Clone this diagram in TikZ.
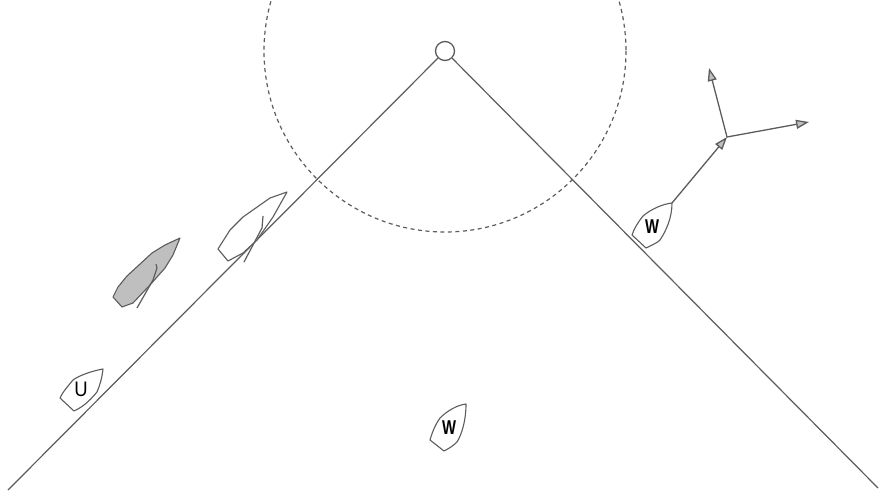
\documentclass[tikz,border=0pt]{standalone}
\usepackage{fontspec}
\setmainfont{Liberation Sans}
\usetikzlibrary{arrows.meta}
\definecolor{linegray}{gray}{0.36}
\definecolor{hullgray}{gray}{0.75}
\tikzset{
  course/.style={draw=linegray,line width=1.2pt},
  hull/.style={draw=linegray,line width=1.1pt,fill=white,line join=round},
  sailline/.style={draw=linegray,line width=1.2pt,line join=round},
  vector/.style={draw=linegray,line width=1.3pt,-{Triangle[length=13pt,width=9pt,fill=hullgray]}},
  boatlabel/.style={inner sep=0pt,font=\fontsize{21}{21}\selectfont,xscale=0.88},
  wlabel/.style={inner sep=0pt,font=\fontsize{20}{20}\selectfont\bfseries,xscale=0.74},
  markcircle/.style={circle,draw=linegray,line width=1.3pt,fill=white,minimum size=19pt,inner sep=0pt}
}
\begin{document}
\begin{tikzpicture}[x=1pt,y=-1pt]
\useasboundingbox (0,0) rectangle (883,495);
\begin{scope}
\clip (0,0) rectangle (883,495);
\coordinate (c) at (445,51);
\draw[draw=linegray,line width=1.2pt,dash pattern=on 4pt off 3.5pt] (c) circle[radius=181];
\end{scope}
\node[markcircle] (mark) at (445,51) {};
\coordinate (leftend) at (8,490);
\coordinate (rightend) at (878,488);
\draw[course] (mark) -- (leftend);
\draw[course] (mark) -- (rightend);
% grey boat
\draw[hull,fill=hullgray] (180,238) -- (165,245) -- (152,253) -- (127,276) -- (118,287) -- (113,297) -- (122,307) -- (133,303) -- (150,285) -- (165,268) -- (173,255) -- cycle;
\draw[sailline] (156,264) -- (157,268) -- (153,280) -- (137,308);
% white boat on layline
\draw[hull] (287,192) -- (270,198) -- (243,217) -- (230,230) -- (218,249) -- (228,261) -- (243,253) -- (257,240) -- (273,217) -- cycle;
\draw[sailline] (263,216) -- (262,228) -- (253,245) -- (244,262);
% U boat
\draw[hull] (103,369) .. controls (92,371) and (80,375) .. (73,380) .. controls (68,386) and (62,393) .. (60,398) -- (74,411) .. controls (85,406) and (92,398) .. (97,392) .. controls (100,385) and (102,378) .. (103,369) -- cycle;
\node[boatlabel] (u) at (81,389) {U};
% W boat bottom
\draw[hull] (466,404) .. controls (457,405) and (447,411) .. (440,418) .. controls (435,425) and (432,433) .. (430,440) -- (444,451) .. controls (450,448) and (454,445) .. (457,442) .. controls (462,434) and (466,420) .. (466,404) -- cycle;
\node[wlabel] (w1) at (449,428) {W};
% W boat right
\draw[hull] (672,203) .. controls (663,204) and (651,209) .. (643,216) .. controls (638,222) and (634,229) .. (632,235) -- (646,248) .. controls (652,245) and (657,243) .. (660,240) .. controls (666,231) and (672,218) .. (672,203) -- cycle;
\node[wlabel] (w2) at (652,227) {W};
% vectors
\coordinate (bow) at (672,203);
\coordinate (apex) at (727,137);
\coordinate (up) at (709,68);
\coordinate (right) at (809,122);
\draw[vector] (bow) -- (apex);
\draw[vector] (apex) -- (up);
\draw[vector] (apex) -- (right);
\end{tikzpicture}
\end{document}
